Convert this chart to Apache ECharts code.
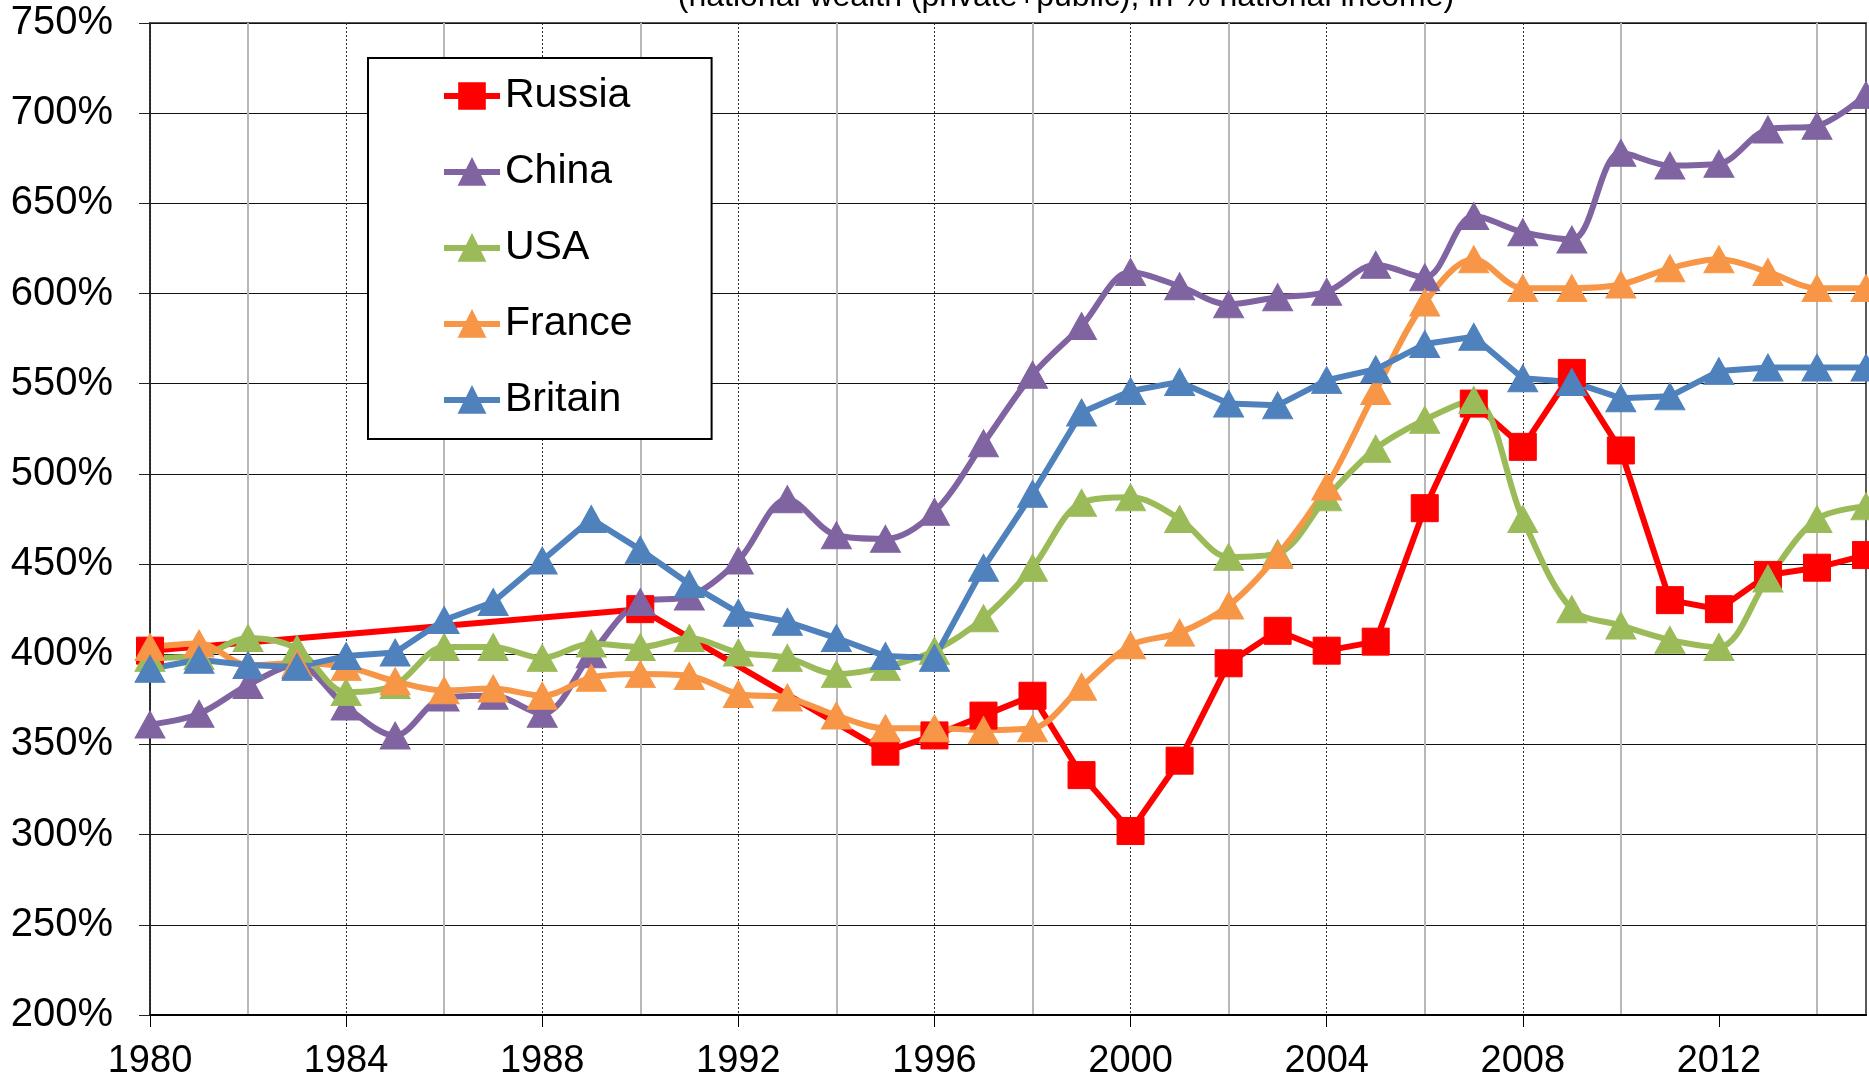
<!DOCTYPE html>
<html>
<head>
<meta charset="utf-8">
<script src="https://cdn.jsdelivr.net/npm/echarts@6/dist/echarts.min.js"></script>
<style>
html,body{margin:0;padding:0;background:#ffffff;}
#c{width:1869px;height:1084px;}
</style>
</head>
<body>
<div id="c"></div>
<script>
const titleText = '(national wealth (private+public), in % national income)';
const years = [1980,1981,1982,1983,1984,1985,1986,1987,1988,1989,1990,1991,1992,1993,1994,1995,1996,1997,1998,1999,2000,2001,2002,2003,2004,2005,2006,2007,2008,2009,2010,2011,2012,2013,2014,2015];
const xTickLabels = [1980,1984,1988,1992,1996,2000,2004,2008,2012];
const russia  = [402,null,null,null,null,null,null,null,null,null,425,null,null,null,null,346,355,366,377,333,302,341,395,413,402,407,481,539,515,556,513,430,425,444,448,455];
const china   = [361,367,383,394,371,355,376,377,367,400,429,432,452,486,466,464,479,517,555,582,612,604,594,598,601,616,609,643,634,630,678,671,672,691,693,710];
const usa     = [398,399,409,403,379,383,404,404,398,406,404,409,401,398,389,393,402,420,448,484,487,475,454,456,487,514,530,541,475,425,416,408,404,442,475,482];
const france  = [404,406,394,395,393,385,380,381,377,387,389,388,378,376,366,359,359,358,359,382,405,412,427,455,493,546,595,619,603,603,605,614,619,612,603,603];
const britain = [392,397,394,393,399,401,419,429,452,475,458,439,423,418,409,399,398,448,489,534,546,551,539,538,552,558,572,576,553,551,542,543,557,559,559,559];

const FONT = "'Liberation Sans', Arial, Helvetica, sans-serif";
function pairs(vals){ return years.map((y,i)=>[y, vals[i]]); }

const chart = echarts.init(document.getElementById('c'), null, {renderer:'canvas'});
const tri = [30,27];
function lineSeries(name, vals, color, symbol, size, smooth){
  return {
    name: name, type: 'line', xAxisIndex: 0, yAxisIndex: 0,
    data: pairs(vals), connectNulls: true,
    symbol: symbol, symbolSize: size, smooth: smooth,
    lineStyle: {color: color, width: 6},
    itemStyle: {color: color, borderColor: color, borderWidth: 1},
    emphasis: {disabled: true}
  };
}
chart.setOption({
  animation: false,
  backgroundColor: '#ffffff',
  textStyle: {fontFamily: FONT},
  graphic: [{
    type: 'text', x: 1066, y: -3, silent: true,
    style: {text: titleText, font: '32px ' + FONT, fill: '#000',
            align: 'center', verticalAlign: 'middle', textAlign: 'center', textVerticalAlign: 'middle'}
  }],
  grid: {left: 150, right: 3, top: 23, bottom: 69, show: true, borderColor: '#595959', borderWidth: 2, backgroundColor: 'transparent'},
  legend: {
    orient: 'vertical', left: 368, top: 58,
    padding: [16, 79, 17, 73], itemGap: 32, itemWidth: 56, itemHeight: 32,
    borderColor: '#000', borderWidth: 2, backgroundColor: '#fff',
    lineStyle: {width: 6},
    textStyle: {fontSize: 41, fontFamily: FONT, color: '#000', lineHeight: 44},
    data: ['Russia','China','USA','France','Britain']
  },
  xAxis: [{
    type: 'value', min: 1980, max: 2015, interval: 4, position: 'bottom',
    axisLine: {show: true, onZero: false, lineStyle: {color: '#000', width: 2}},
    axisTick: {show: true, length: 12, lineStyle: {color: '#000', width: 1}, customValues: xTickLabels},
    axisLabel: {fontSize: 38, color: '#000', fontFamily: FONT, margin: 28, customValues: xTickLabels,
                formatter: v => (v % 4 === 0 && v <= 2012) ? String(v) : ''},
    splitLine: {show: true, showMaxLine: false, lineStyle: {color: '#303030', width: 1, type: [2,2]}}
  },{
    type: 'value', min: 1980, max: 2015, interval: 2, position: 'top',
    axisLine: {show: false}, axisTick: {show: false}, axisLabel: {show: false},
    splitLine: {show: true, lineStyle: {color: ['rgba(0,0,0,0)', '#b8b8b8'], width: 2}}
  }],
  yAxis: {
    type: 'value', min: 200, max: 750, interval: 50,
    axisLine: {show: true, lineStyle: {color: '#222', width: 1.5}},
    axisTick: {show: true, length: 11, lineStyle: {color: '#222', width: 1}},
    axisLabel: {fontSize: 40, color: '#000', fontFamily: FONT, margin: 37, padding: [5, 0, 0, 0], formatter: '{value}%'},
    splitLine: {show: true, lineStyle: {color: '#111', width: 1.2}}
  },
  series: [
    lineSeries('Russia', russia, '#FF0000', 'rect', 27, false),
    lineSeries('China', china, '#8064A2', 'triangle', tri, 0.33),
    lineSeries('USA', usa, '#9BBB59', 'triangle', tri, 0.33),
    lineSeries('France', france, '#F79646', 'triangle', tri, 0.33),
    lineSeries('Britain', britain, '#4F81BD', 'triangle', tri, false)
  ]
});
</script>
</body>
</html>
